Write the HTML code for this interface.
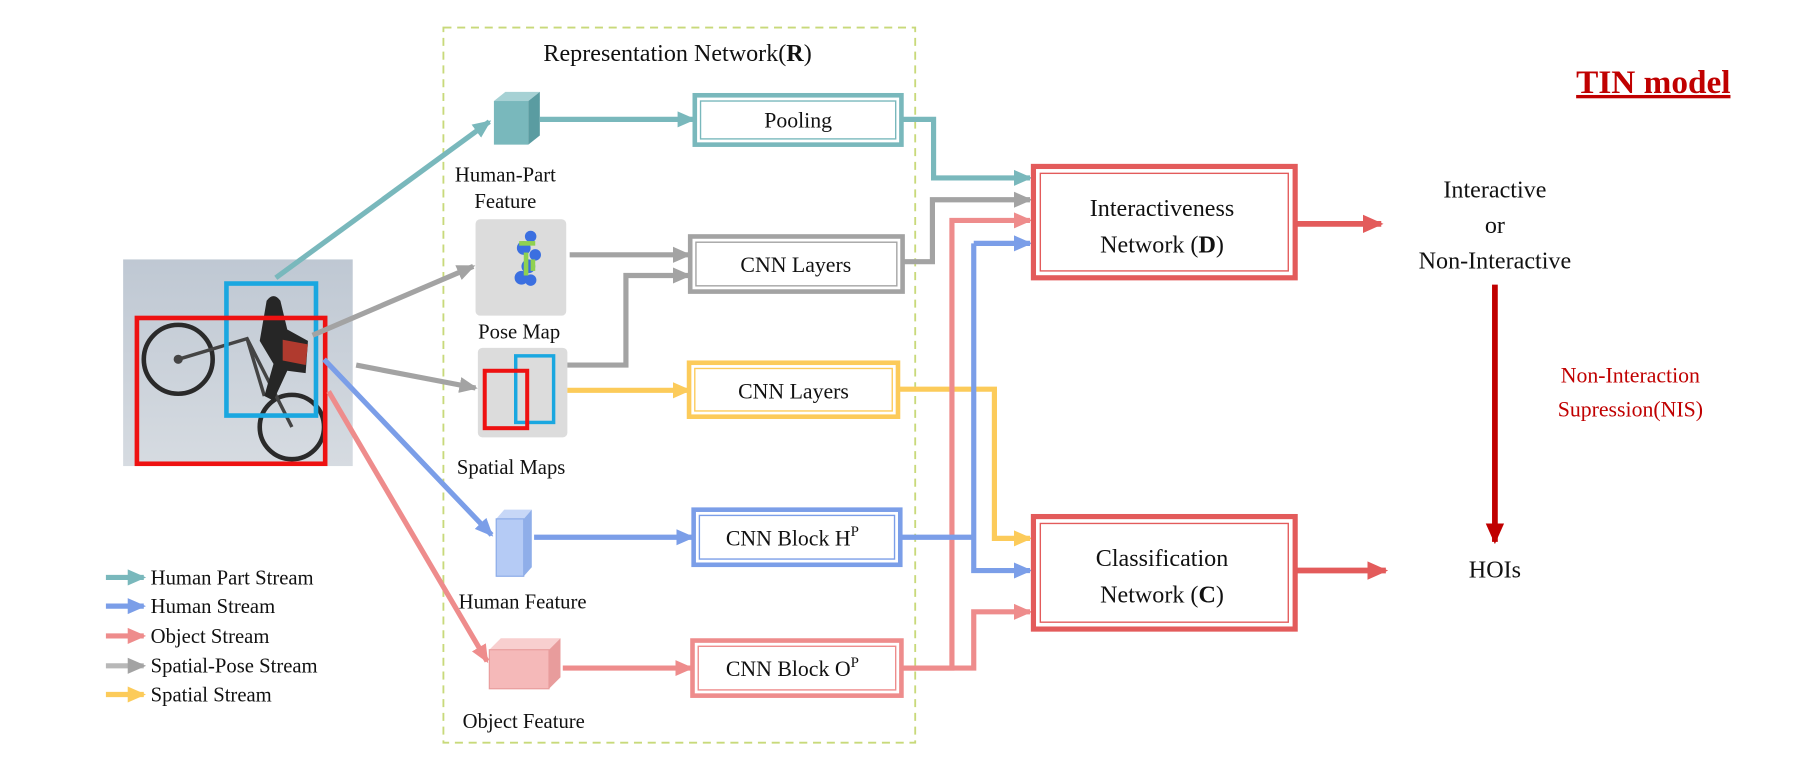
<!DOCTYPE html>
<html><head><meta charset="utf-8"><style>
html,body{margin:0;padding:0;background:#fff;width:1804px;height:776px;overflow:hidden}
svg{display:block}
text{font-family:"Liberation Serif",serif;fill:#111}
</style></head><body>
<svg width="1804" height="776" viewBox="0 0 1571 676" xmlns="http://www.w3.org/2000/svg">
<defs>
<marker id="aT" markerUnits="userSpaceOnUse" markerWidth="16" markerHeight="16" refX="14" refY="8" orient="auto"><path d="M0,1 L16,8 L0,15z" fill="#79b8bc"/></marker>
<marker id="aG" markerUnits="userSpaceOnUse" markerWidth="16" markerHeight="16" refX="14" refY="8" orient="auto"><path d="M0,1 L16,8 L0,15z" fill="#a3a3a3"/></marker>
<marker id="aY" markerUnits="userSpaceOnUse" markerWidth="16" markerHeight="16" refX="14" refY="8" orient="auto"><path d="M0,1 L16,8 L0,15z" fill="#fccb5a"/></marker>
<marker id="aB" markerUnits="userSpaceOnUse" markerWidth="16" markerHeight="16" refX="14" refY="8" orient="auto"><path d="M0,1 L16,8 L0,15z" fill="#7b9ee8"/></marker>
<marker id="aP" markerUnits="userSpaceOnUse" markerWidth="16" markerHeight="16" refX="14" refY="8" orient="auto"><path d="M0,1 L16,8 L0,15z" fill="#ee8c8c"/></marker>
<marker id="aR" markerUnits="userSpaceOnUse" markerWidth="18" markerHeight="18" refX="16" refY="9" orient="auto"><path d="M0,1 L18,9 L0,17z" fill="#e35b5b"/></marker>
<marker id="aD" markerUnits="userSpaceOnUse" markerWidth="18" markerHeight="18" refX="16" refY="9" orient="auto"><path d="M0,1 L18,9 L0,17z" fill="#c00000"/></marker>
<linearGradient id="sky" x1="0" y1="0" x2="0" y2="1"><stop offset="0" stop-color="#bfc8d3"/><stop offset="1" stop-color="#d6dbe1"/></linearGradient>
</defs>

<rect x="386" y="24" width="411" height="623" fill="none" stroke="#c8d97a" stroke-width="1.6" stroke-dasharray="7,5"/>
<text x="590" y="53" font-size="21" text-anchor="middle">Representation Network(<tspan font-weight="bold">R</tspan>)</text>

<!-- photo -->
<rect x="107" y="226" width="200" height="180" fill="url(#sky)"/>
<circle cx="155" cy="313" r="30" fill="none" stroke="#2a2a2a" stroke-width="4"/>
<circle cx="155" cy="313" r="4" fill="#444"/>
<circle cx="254" cy="372" r="28" fill="none" stroke="#2a2a2a" stroke-width="4"/>
<path d="M155,313 L215,295 L254,372 M215,295 L230,345" stroke="#444" stroke-width="3" fill="none"/>
<path d="M232,262 q6,-8 12,0 l6,25 l18,10 l-2,28 l-16,-2 l-12,26 l-8,-4 l8,-28 l-12,-20z" fill="#262626"/>
<path d="M246,296 l22,4 l-2,18 l-20,-4z" fill="#b03a2e"/>
<rect x="197" y="247" width="78" height="115" fill="none" stroke="#1aa7e0" stroke-width="4"/>
<rect x="119" y="277" width="164" height="127" fill="none" stroke="#ee1111" stroke-width="4"/>

<g stroke-width="4.5" fill="none">
<line x1="240" y1="242" x2="426" y2="106" stroke="#79b8bc" marker-end="url(#aT)"/>
<line x1="272" y1="292" x2="412" y2="232" stroke="#a3a3a3" marker-end="url(#aG)"/>
<line x1="310" y1="318" x2="414" y2="338" stroke="#a3a3a3" marker-end="url(#aG)"/>
<line x1="282" y1="313" x2="428" y2="466" stroke="#7b9ee8" marker-end="url(#aB)"/>
<line x1="286" y1="341" x2="424" y2="576" stroke="#ee8c8c" marker-end="url(#aP)"/>
</g>

<polygon points="430,88 460,88 470,80 440,80" fill="#a6d1d4"/>
<rect x="430" y="88" width="30" height="38" fill="#79b8bc"/>
<polygon points="460,88 470,80 470,118 460,126" fill="#5a9ca1"/>
<text x="440" y="158" font-size="18" text-anchor="middle">Human-Part</text>
<text x="440" y="181" font-size="18" text-anchor="middle">Feature</text>

<rect x="414" y="191" width="79" height="84" rx="4" fill="#dcdcdc"/>
<g fill="#3b6fe0"><circle cx="462" cy="206" r="5"/><circle cx="456" cy="216" r="6"/><circle cx="466" cy="222" r="5"/><circle cx="460" cy="232" r="6"/><circle cx="454" cy="242" r="6"/><circle cx="462" cy="244" r="5"/></g>
<g fill="#8fd14f"><rect x="452" y="210" width="14" height="4"/><rect x="456" y="220" width="4" height="20"/><rect x="462" y="226" width="4" height="10"/></g>
<text x="452" y="295" font-size="18" text-anchor="middle">Pose Map</text>

<rect x="416" y="303" width="78" height="78" rx="4" fill="#dcdcdc"/>
<rect x="449" y="310" width="33" height="58" fill="none" stroke="#1aa7e0" stroke-width="3"/>
<rect x="422" y="323" width="37" height="50" fill="none" stroke="#ee1111" stroke-width="3.5"/>
<text x="445" y="413" font-size="18" text-anchor="middle">Spatial Maps</text>

<polygon points="432,452 456,452 463,444 439,444" fill="#c7d7f7"/>
<rect x="432" y="452" width="24" height="50" fill="#b5cbf5" stroke="#8aaae8" stroke-width="1"/>
<polygon points="456,452 463,444 463,494 456,502" fill="#8faee9"/>
<text x="455" y="530" font-size="18" text-anchor="middle">Human Feature</text>

<polygon points="426,566 478,566 488,556 436,556" fill="#f8cfcf"/>
<rect x="426" y="566" width="52" height="34" fill="#f5b9b9" stroke="#e89c9c" stroke-width="1"/>
<polygon points="478,566 488,556 488,590 478,600" fill="#e89c9c"/>
<text x="456" y="634" font-size="18" text-anchor="middle">Object Feature</text>

<g stroke-width="4.5" fill="none">
<line x1="470" y1="104" x2="604" y2="104" stroke="#79b8bc" marker-end="url(#aT)"/>
<line x1="496" y1="222" x2="600" y2="222" stroke="#a3a3a3" marker-end="url(#aG)"/>
<polyline points="494,318 545,318 545,240 600,240" stroke="#a3a3a3" marker-end="url(#aG)"/>
<line x1="494" y1="340" x2="600" y2="340" stroke="#fccb5a" marker-end="url(#aY)"/>
<line x1="465" y1="468" x2="603" y2="468" stroke="#7b9ee8" marker-end="url(#aB)"/>
<line x1="490" y1="582" x2="602" y2="582" stroke="#ee8c8c" marker-end="url(#aP)"/>
</g>

<g fill="#fff" stroke-width="4">
<rect x="605" y="83" width="180" height="43" stroke="#79b8bc"/>
<rect x="601" y="206" width="185" height="48" stroke="#a3a3a3"/>
<rect x="600" y="316" width="182" height="47" stroke="#fccb5a"/>
<rect x="604" y="444" width="180" height="48" stroke="#7b9ee8"/>
<rect x="603" y="558" width="182" height="48" stroke="#ee8c8c"/>
</g>
<g fill="none" stroke-width="1.2">
<rect x="610" y="88" width="170" height="33" stroke="#79b8bc"/>
<rect x="606" y="211" width="175" height="38" stroke="#a3a3a3"/>
<rect x="605" y="321" width="172" height="37" stroke="#fccb5a"/>
<rect x="609" y="449" width="170" height="38" stroke="#7b9ee8"/>
<rect x="608" y="563" width="172" height="38" stroke="#ee8c8c"/>
</g>
<g font-size="19" text-anchor="middle">
<text x="695" y="111">Pooling</text>
<text x="693" y="237">CNN Layers</text>
<text x="691" y="347">CNN Layers</text>
<text x="690" y="475">CNN Block H<tspan dy="-8" font-size="13">P</tspan></text>
<text x="690" y="589">CNN Block O<tspan dy="-8" font-size="13">P</tspan></text>
</g>

<g stroke-width="4.5" fill="none">
<polyline points="785,104 813,104 813,155 897,155" stroke="#79b8bc" marker-end="url(#aT)"/>
<polyline points="786,228 812,228 812,174 897,174" stroke="#a3a3a3" marker-end="url(#aG)"/>
<polyline points="782,339 866,339 866,469 897,469" stroke="#fccb5a" marker-end="url(#aY)"/>
<polyline points="785,582 829,582 829,192 897,192" stroke="#ee8c8c" marker-end="url(#aP)"/>
<polyline points="785,582 848,582 848,533 897,533" stroke="#ee8c8c" marker-end="url(#aP)"/>
<polyline points="784,468 848,468" stroke="#7b9ee8"/>
<polyline points="848,212 848,497 897,497" stroke="#7b9ee8" marker-end="url(#aB)"/>
<polyline points="848,212 897,212" stroke="#7b9ee8" marker-end="url(#aB)"/>
</g>

<g fill="#fff" stroke="#e35b5b" stroke-width="4.5">
<rect x="900" y="145" width="228" height="97"/>
<rect x="900" y="450" width="228" height="98"/>
</g>
<g fill="none" stroke="#e35b5b" stroke-width="1.2">
<rect x="906" y="151" width="216" height="85"/>
<rect x="906" y="456" width="216" height="86"/>
</g>
<g font-size="21" text-anchor="middle">
<text x="1012" y="188">Interactiveness</text>
<text x="1012" y="220">Network (<tspan font-weight="bold">D</tspan>)</text>
<text x="1012" y="493">Classification</text>
<text x="1012" y="525">Network (<tspan font-weight="bold">C</tspan>)</text>
</g>

<g stroke-width="5" fill="none">
<line x1="1130" y1="195" x2="1203" y2="195" stroke="#e35b5b" marker-end="url(#aR)"/>
<line x1="1130" y1="497" x2="1207" y2="497" stroke="#e35b5b" marker-end="url(#aR)"/>
<line x1="1302" y1="248" x2="1302" y2="472" stroke="#c00000" marker-end="url(#aD)"/>
</g>

<g font-size="21" text-anchor="middle">
<text x="1302" y="172">Interactive</text>
<text x="1302" y="203">or</text>
<text x="1302" y="234">Non-Interactive</text>
<text x="1302" y="503">HOIs</text>
</g>
<text x="1420" y="333" font-size="19" text-anchor="middle" style="fill:#c00000">Non-Interaction</text>
<text x="1420" y="363" font-size="19" text-anchor="middle" style="fill:#c00000">Supression(NIS)</text>
<text x="1440" y="81" font-size="29" font-weight="bold" text-anchor="middle" style="fill:#c00000" text-decoration="underline">TIN model</text>

<g stroke-width="4.5" fill="none">
<line x1="92" y1="503" x2="125" y2="503" stroke="#79b8bc" marker-end="url(#aT)"/>
<line x1="92" y1="528" x2="125" y2="528" stroke="#7b9ee8" marker-end="url(#aB)"/>
<line x1="92" y1="554" x2="125" y2="554" stroke="#ee8c8c" marker-end="url(#aP)"/>
<line x1="92" y1="580" x2="125" y2="580" stroke="#b8b8b8" marker-end="url(#aG)"/>
<line x1="92" y1="605" x2="125" y2="605" stroke="#fccb5a" marker-end="url(#aY)"/>
</g>
<g font-size="18">
<text x="131" y="509">Human Part Stream</text>
<text x="131" y="534">Human Stream</text>
<text x="131" y="560">Object Stream</text>
<text x="131" y="586">Spatial-Pose Stream</text>
<text x="131" y="611">Spatial Stream</text>
</g>
</svg>
</body></html>
